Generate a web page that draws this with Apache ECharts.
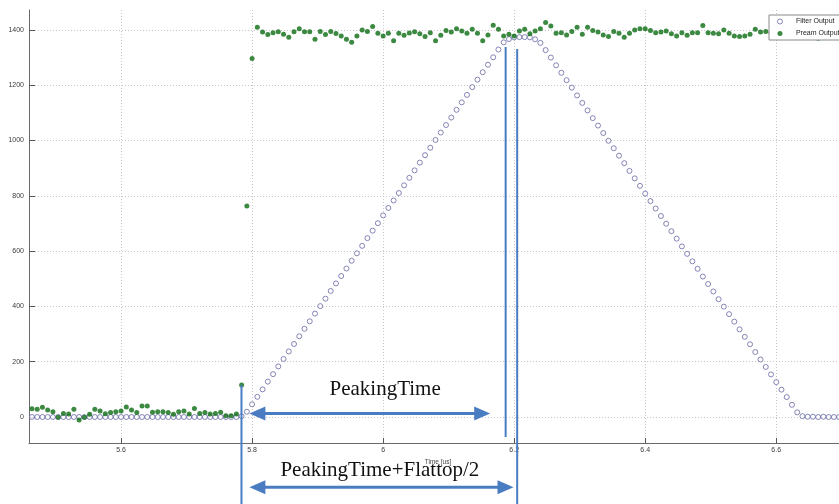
<!DOCTYPE html>
<html>
<head>
<meta charset="utf-8">
<script src="https://cdn.jsdelivr.net/npm/echarts@6/dist/echarts.min.js"></script>
<style>
html,body{margin:0;padding:0;overflow:hidden;background:#fff;}
#chart{width:860px;height:504px;}
</style>
</head>
<body>
<div id="chart"></div>
<script>
// Sampling clock of the recorded waveform (8 ns samples)
const T_START = 5.464;   // us, first sample shown
const T_STEP = 0.008;    // us

const xTicks = [5.6, 5.8, 6, 6.2, 6.4, 6.6];
const yTicks = [0, 200, 400, 600, 800, 1000, 1200, 1400];

const filterOutput = [
  0,0,0,0,0,0,0,0,0,0,
  0,0,0,0,0,0,0,0,0,0,
  0,0,0,0,0,0,0,0,0,0,
  0,0,0,0,0,0,0,0,0,0,
  3,19,46,
  73,100,128,155,183,210,237,264,292,319,
  346,374,401,428,456,483,510,537,565,592,
  619,647,674,701,729,756,783,810,838,865,
  892,920,947,974,1002,1029,1056,1083,1111,1138,
  1165,1193,1220,1247,1274,1301,1329,1355,1367,1373,
  1374,1374,1373,1366,1353,1327,1300,1272,1245,1218,
  1191,1163,1136,1109,1081,1054,1027,999,972,945,
  918,890,863,836,808,781,754,727,699,672,
  645,617,590,563,536,508,481,454,426,399,
  372,345,317,290,263,235,208,181,154,126,
  99,72,44,17,3,1,1,0,1,0,
  0,0
];

const preampOutput = [
  30,28,35,25,19,-1,13,11,28,-11,
  -1,10,28,22,12,16,19,22,36,25,
  16,40,40,17,19,19,16,10,19,22,
  11,31,13,16,11,13,17,5,5,11,
  116,763,1297,
  1410,1392,1383,1390,1393,1384,1373,1393,1404,1393,
  1393,1366,1394,1383,1394,1387,1378,1366,1355,1378,
  1400,1394,1412,1388,1378,1388,1361,1388,1381,1389,
  1393,1386,1376,1390,1361,1381,1398,1392,1404,1396,
  1388,1402,1388,1361,1382,1417,1402,1378,1384,1378,
  1396,1402,1386,1396,1404,1427,1414,1388,1390,1382,
  1394,1410,1384,1410,1398,1392,1382,1376,1394,1388,
  1373,1388,1400,1404,1404,1398,1390,1392,1396,1386,
  1378,1390,1381,1390,1390,1416,1390,1388,1386,1400,
  1388,1378,1376,1378,1384,1402,1392,1394,1390,1396,
  1388,1398,1392,1386,1394,1400,1390,1370,1392,1398,
  1388,1395
];

// Annotation anchor points in data space [time us, value]
const vLineStart = [[5.7838, 116], [6.1870, 1338], [6.2046, 1331]];
const vLineEnd   = [[5.7838, -320], [6.1870, -72], [6.2046, -320]];
const arrowPeaking = [[5.7959, 13], [6.1634, 13]];
const arrowPeakFlat = [[5.7959, -254], [6.1990, -254]];
const labelPeaking = [6.003, 101];
const labelPeakFlat = [5.995, -195];

const pair = arr => arr.map((v, i) => [T_START + i * T_STEP, v]);

const chart = echarts.init(document.getElementById('chart'), null, {renderer: 'canvas'});

const axisLabelStyle = {fontSize: 7, color: '#3a3a3a', fontFamily: 'Liberation Sans', formatter: v => String(v)};
const splitStyle = {show: true, lineStyle: {color: '#c8c8c8', type: [1, 2], width: 1}};

chart.setOption({
  animation: false,
  backgroundColor: '#fff',
  grid: {left: 29, top: 10, right: 13, bottom: 61},
  legend: {
    orient: 'vertical',
    left: 769, top: 15,
    padding: [3, 14, 3, 8],
    itemWidth: 14, itemHeight: 5, itemGap: 5,
    backgroundColor: '#fff',
    borderColor: '#8a8a8a', borderWidth: 1,
    itemStyle: {borderWidth: 0.9},
    textStyle: {fontSize: 7, color: '#222', fontFamily: 'Liberation Sans', padding: [0, 0, 0, 4]},
    data: ['Filter Output', 'Pream Output']
  },
  xAxis: {
    type: 'value', min: 5.4595, max: 6.708,
    name: 'Time [us]', nameLocation: 'middle', nameGap: 13,
    nameTextStyle: {fontSize: 6.5, color: '#444', fontFamily: 'Liberation Sans'},
    axisLine: {show: true, onZero: false, lineStyle: {color: '#6a6a6a', width: 1}},
    axisTick: {show: true, inside: true, length: 5, customValues: xTicks, lineStyle: {color: '#555'}},
    axisLabel: Object.assign({}, axisLabelStyle, {customValues: xTicks, margin: 4}),
    splitLine: splitStyle
  },
  yAxis: {
    type: 'value', min: -94, max: 1472,
    axisLine: {show: true, onZero: false, lineStyle: {color: '#6a6a6a', width: 1}},
    axisTick: {show: true, inside: true, length: 6, customValues: yTicks, lineStyle: {color: '#555'}},
    axisLabel: Object.assign({}, axisLabelStyle, {customValues: yTicks, margin: 5}),
    splitLine: splitStyle
  },
  series: [
    {
      name: 'Filter Output', type: 'scatter',
      symbol: 'circle', symbolSize: 5,
      itemStyle: {color: '#ffffff', borderColor: '#58589c', borderWidth: 0.9},
      data: pair(filterOutput)
    },
    {
      name: 'Pream Output', type: 'scatter',
      symbol: 'circle', symbolSize: 5,
      itemStyle: {color: '#0b6c13'},
      data: pair(preampOutput)
    }
  ]
});

const px = p => chart.convertToPixel({xAxisIndex: 0, yAxisIndex: 0}, p);
const BLUE = '#4a7cc2';
const graphics = [];
vLineStart.forEach((s, i) => {
  const a = px(s), b = px(vLineEnd[i]);
  graphics.push({type: 'line', z: 100, shape: {x1: a[0], y1: a[1], x2: b[0], y2: b[1]},
    style: {stroke: BLUE, lineWidth: 2}});
});
function arrow(pts) {
  const a = px(pts[0]), b = px(pts[1]);
  const L = 16, H = 7, y = a[1];
  graphics.push({type: 'line', z: 100, shape: {x1: a[0] + L - 2, y1: y, x2: b[0] - L + 2, y2: y},
    style: {stroke: BLUE, lineWidth: 3}});
  graphics.push({type: 'polygon', z: 100, shape: {points: [[a[0], y], [a[0] + L, y - H], [a[0] + L, y + H]]},
    style: {fill: BLUE}});
  graphics.push({type: 'polygon', z: 100, shape: {points: [[b[0], y], [b[0] - L, y - H], [b[0] - L, y + H]]},
    style: {fill: BLUE}});
}
arrow(arrowPeaking);
arrow(arrowPeakFlat);
function label(p, txt) {
  const c = px(p);
  graphics.push({type: 'text', z: 101, x: c[0], y: c[1],
    style: {text: txt, fill: '#111', font: '21px "Liberation Serif", "Times New Roman", serif',
      textAlign: 'center', textVerticalAlign: 'middle'}});
}
label(labelPeaking, 'PeakingTime');
label(labelPeakFlat, 'PeakingTime+Flattop/2');
chart.setOption({graphic: graphics});
</script>
</body>
</html>
